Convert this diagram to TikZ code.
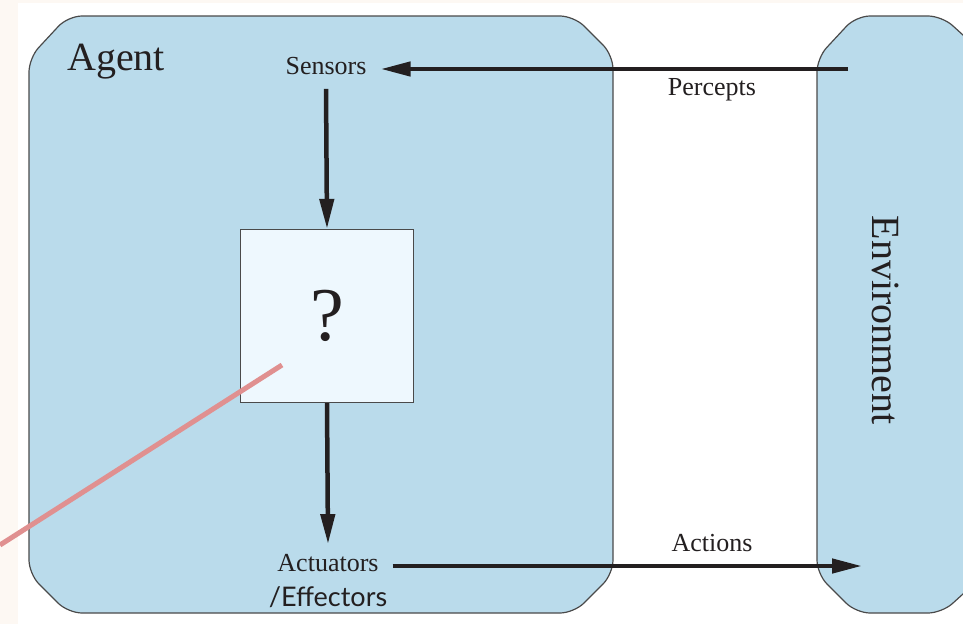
\documentclass[tikz,border=0pt]{standalone}
\usepackage{fontspec}
\setmainfont{Liberation Serif}
\newfontfamily\effont{Lato}
\usetikzlibrary{arrows.meta}
\definecolor{inkdark}{HTML}{231F20}
\definecolor{boxblue}{HTML}{BADBEB}
\definecolor{progblue}{HTML}{EEF8FE}
\definecolor{edgegrey}{HTML}{4A4A4A}
\definecolor{cream}{HTML}{FDF8F3}
\definecolor{pinkline}{HTML}{E09090}
\tikzset{
    flow/.style={draw=inkdark, line width=4.5pt, -{Triangle[length=30pt,width=14pt]}},
    shell/.style={fill=boxblue, draw=edgegrey, line width=1.2pt, rounded corners=14pt},
    lbl/.style={text=inkdark, inner sep=0pt},
}
\begin{document}
\begin{tikzpicture}[x=1pt, y=-1pt]
    \useasboundingbox (0,0) rectangle (963,624);
    % Page background
    \fill[cream] (0,0) rectangle (963,624);
    \fill[white] (18,3) rectangle (963,624);

    % Agent and environment shells
    \draw[shell] (29,58) -- (68,16) -- (574,16) -- (613,55) -- (613,574)
        -- (574,613) -- (68,613) -- (29,574) -- cycle;
    \draw[shell] (817,58) -- (856,16) -- (942,16) -- (985,55) -- (985,574)
        -- (942,613) -- (856,613) -- (817,574) -- cycle;

    % Labels
    \node[lbl, font=\fontsize{40}{40}\selectfont] (agentlbl) at (116,62) {Agent};
    \node[lbl, font=\fontsize{40}{40}\selectfont, rotate=-90] (envlbl) at (886,320) {Environment};
    \node[lbl, font=\fontsize{26}{26}\selectfont] (sensors) at (326,66) {Sensors};
    \node[lbl, font=\fontsize{26}{26}\selectfont] (actuators) at (328,563) {Actuators};
    \node[lbl, font=\effont\fontsize{27}{27}\selectfont] (effectors) at (328,597) {/Effectors};
    \node[lbl, font=\fontsize{26}{26}\selectfont] (percepts) at (712,90) {Percepts};
    \node[lbl, font=\fontsize{26}{26}\selectfont] (actions) at (712,543) {Actions};

    % Agent program box
    \node[draw=edgegrey, fill=progblue, line width=1.2pt, minimum size=173pt,
        inner sep=0pt, text=inkdark, font=\fontsize{76}{76}\selectfont] (program) at (327,316) {?};

    % Flow arrows
    \coordinate (envin) at (848,69);
    \coordinate (envout) at (862,566);
    \draw[flow] (envin) -- ([xshift=14pt]sensors.east |- envin);
    \draw[flow] ([yshift=-14pt]sensors.south) -- (program.north);
    \draw[flow] (program.south) -- ([yshift=10pt]actuators.north);
    \draw[flow] ([xshift=14pt]actuators.east |- envout) -- (envout);

    % Pointer line
    \coordinate (ptrA) at (0,545);
    \coordinate (ptrB) at (282,365);
    \draw[pinkline, line width=5pt] (ptrA) -- (ptrB);
\end{tikzpicture}
\end{document}
